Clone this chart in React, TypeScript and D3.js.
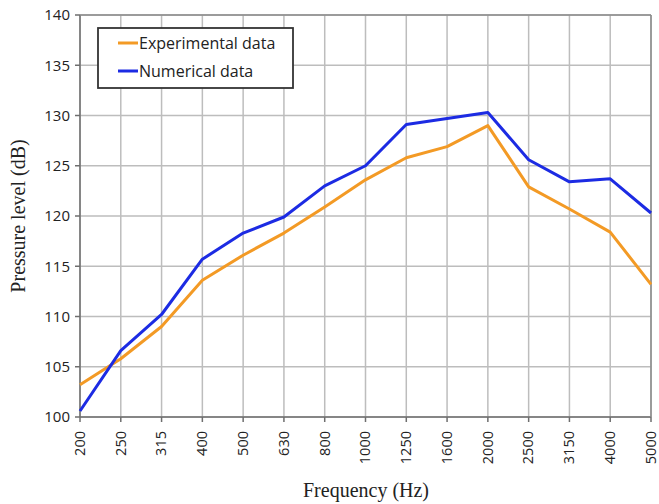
import React from "react";
import * as d3 from "d3";

const frequencies = ["200", "250", "315", "400", "500", "630", "800", "1000", "1250", "1600", "2000", "2500", "3150", "4000", "5000"];
const experimental = [103.2, 105.8, 109.0, 113.6, 116.1, 118.3, 120.9, 123.6, 125.8, 126.9, 129.0, 122.9, 120.7, 118.4, 113.2];
const numerical = [100.6, 106.6, 110.2, 115.7, 118.3, 119.9, 123.0, 125.0, 129.1, 129.7, 130.3, 125.6, 123.4, 123.7, 120.3];
const yTicks = [100, 105, 110, 115, 120, 125, 130, 135, 140];

const W = 659;
const H = 504;
const left = 80;
const right = 651;
const top = 15;
const bottom = 417;

export default function App() {
  const x = d3.scalePoint<string>().domain(frequencies).range([left, right]);
  const y = d3.scaleLinear().domain([100, 140]).range([bottom, top]);
  const line = d3
    .line<number>()
    .x((_, i) => x(frequencies[i]) as number)
    .y((d) => y(d));

  const sans = "'Open Sans', 'Noto Sans', sans-serif";
  const serif = "'Liberation Serif', 'DejaVu Serif', serif";

  return (
    <svg width={W} height={H} style={{ position: "absolute", left: 0, top: 0, background: "#fff" }}>
      {/* grid */}
      {yTicks.map((t) => (
        <line key={"gy" + t} x1={left} x2={right} y1={y(t)} y2={y(t)} stroke="#bdbdbd" strokeWidth={1.5} />
      ))}
      {frequencies.map((f) => (
        <line key={"gx" + f} x1={x(f)} x2={x(f)} y1={top} y2={bottom} stroke="#bdbdbd" strokeWidth={1.5} />
      ))}
      {/* axes */}
      <line x1={left} x2={left} y1={top} y2={bottom} stroke="#6e6e6e" strokeWidth={1.5} />
      <line x1={left} x2={right} y1={bottom} y2={bottom} stroke="#6e6e6e" strokeWidth={1.5} />
      <line x1={left} x2={right} y1={top} y2={top} stroke="#8a8a8a" strokeWidth={1.5} />
      <line x1={right} x2={right} y1={top} y2={bottom} stroke="#8a8a8a" strokeWidth={1.5} />
      {yTicks.map((t) => (
        <g key={"ty" + t}>
          <line x1={left - 5} x2={left} y1={y(t)} y2={y(t)} stroke="#6e6e6e" strokeWidth={1.5} />
          <text x={left - 10} y={y(t)} dy="0.35em" textAnchor="end" fontFamily={sans} fontSize={15} fill="#222">
            {t}
          </text>
        </g>
      ))}
      {frequencies.map((f) => (
        <g key={"tx" + f}>
          <line x1={x(f)} x2={x(f)} y1={bottom} y2={bottom + 5} stroke="#6e6e6e" strokeWidth={1.5} />
          <text
            transform={`translate(${x(f)},${bottom + 14}) rotate(-90)`}
            dy="0.33em"
            textAnchor="end"
            fontFamily={sans}
            fontSize={14.5}
            fill="#222"
          >
            {f}
          </text>
        </g>
      ))}
      {/* series */}
      <path d={line(experimental) ?? ""} fill="none" stroke="#F39A25" strokeWidth={3} strokeLinejoin="round" />
      <path d={line(numerical) ?? ""} fill="none" stroke="#1C2BE3" strokeWidth={3} strokeLinejoin="round" />
      {/* legend */}
      <rect x={98} y={28} width={195} height={60} fill="#fff" stroke="#333" strokeWidth={1.8} />
      <line x1={118} x2={138} y1={43} y2={43} stroke="#F39A25" strokeWidth={3} />
      <text x={139} y={43} dy="0.35em" fontFamily={sans} fontSize={16} fill="#222">
        Experimental data
      </text>
      <line x1={118} x2={138} y1={71} y2={71} stroke="#1C2BE3" strokeWidth={3} />
      <text x={139} y={71} dy="0.35em" fontFamily={sans} fontSize={16} fill="#222">
        Numerical data
      </text>
      {/* axis titles */}
      <text
        transform={`translate(25,216) rotate(-90)`}
        textAnchor="middle"
        fontFamily={serif}
        fontSize={20}
        fill="#222"
      >
        Pressure level (dB)
      </text>
      <text x={366} y={497} textAnchor="middle" fontFamily={serif} fontSize={20} fill="#222">
        Frequency (Hz)
      </text>
    </svg>
  );
}
